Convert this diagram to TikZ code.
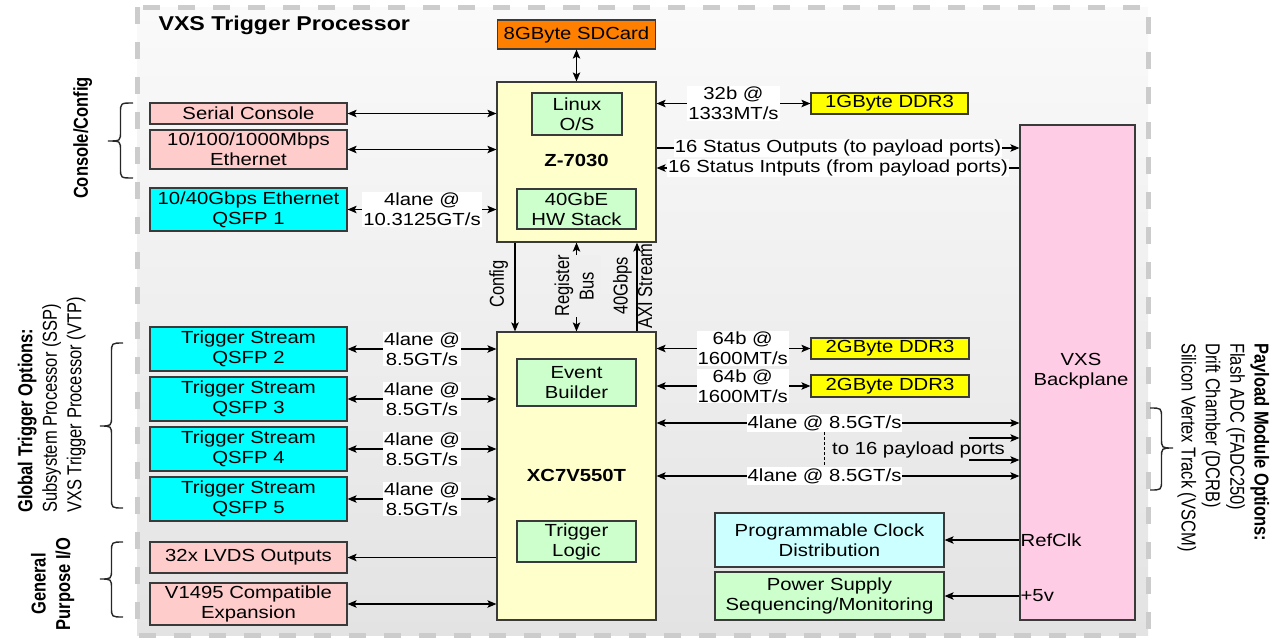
\documentclass[tikz,border=0pt]{standalone}
\usepackage{fontspec}
\setmainfont[FakeStretch=1.16]{Liberation Sans}
\newfontfamily\rotfont{Liberation Sans}
\usetikzlibrary{arrows.meta}
\definecolor{bordc}{HTML}{3A3A3A}
\definecolor{orangec}{HTML}{FF8000}
\definecolor{yellowc}{HTML}{FFFF00}
\definecolor{ltyellow}{HTML}{FFFFCC}
\definecolor{ltgreen}{HTML}{CCFFCC}
\definecolor{ltcyan}{HTML}{CCFFFF}
\definecolor{cyanc}{HTML}{00FFFF}
\definecolor{salmonc}{HTML}{FFCCCC}
\definecolor{pinkc}{HTML}{FFCCE6}
\definecolor{bgtop}{HTML}{FAFAFA}
\definecolor{bgbot}{HTML}{E3E3E3}
\definecolor{bgmid}{HTML}{EFEFEF}
\definecolor{dashc}{HTML}{CCCCCC}
\newcommand{\fsz}{\fontsize{17.5}{20}\selectfont}
\newcommand{\rfsz}{\fontsize{16.5}{20}\selectfont}
\newcommand{\rotlab}[2][l]{\scalebox{1}[1.22]{\rotfont\rfsz\begin{tabular}{@{}#1@{}}#2\end{tabular}}}
\begin{document}
\begin{tikzpicture}[x=1pt,y=-1pt,
  every node/.style={font=\fsz, text=black},
  box/.style={draw=bordc, line width=1.2pt, inner sep=0pt, align=center},
  lab/.style={fill=white, inner sep=1pt, align=center},
  arr/.style={-{Stealth[length=9pt,width=7.5pt,inset=2pt]}, line width=1.1pt},
  barr/.style={{Stealth[length=9pt,width=7.5pt,inset=2pt]}-{Stealth[length=9pt,width=7.5pt,inset=2pt]}, line width=1.1pt},
  brc/.style={line width=1.4pt, draw=black!85},
  rot/.style={inner sep=0pt}]
\useasboundingbox (0,0) rectangle (1281,638);
% background frame
\fill[top color=bgtop, bottom color=bgbot] (137,7) rectangle (1148,635);
\draw[draw=dashc, line width=5pt, dash pattern=on 17pt off 18pt] (137,7) rectangle (1148,635);
\node[anchor=west, font=\fontsize{20}{22}\selectfont\bfseries] (title) at (155,25) {VXS Trigger Processor};

% Zynq
\node[box, fill=orangec, minimum width=158pt, minimum height=29pt] (sd) at (576.5,34.5) {8GByte SDCard};
\node[box, fill=ltyellow, minimum width=159pt, minimum height=160pt] (z) at (576.5,162) {};
\node[font=\fsz\bfseries] (zlab) at (576.5,160) {Z-7030};
\node[box, fill=ltgreen, minimum width=90pt, minimum height=42pt] (linux) at (577,114) {Linux\\O/S};
\node[box, fill=ltgreen, minimum width=119pt, minimum height=40pt] (hw) at (576.5,209) {40GbE\\HW Stack};
\node[box, fill=yellowc, minimum width=157pt, minimum height=21pt] (ddr1) at (889.5,103.5) {1GByte DDR3};

% Backplane
\node[box, fill=pinkc, minimum width=115pt, minimum height=495pt] (bp) at (1077.5,372.5) {};
\node[align=center] (bplab) at (1081,371) {VXS\\Backplane};

% left boxes
\node[box, fill=salmonc, minimum width=197pt, minimum height=21pt] (serial) at (248.5,113.5) {Serial Console};
\node[box, fill=salmonc, minimum width=197pt, minimum height=39pt] (eth) at (248.5,149.5) {10/100/1000Mbps\\Ethernet};
\node[box, fill=cyanc, minimum width=197pt, minimum height=43pt] (qsfp1) at (248.5,209.5) {10/40Gbps Ethernet\\QSFP 1};
\node[box, fill=cyanc, minimum width=197pt, minimum height=44pt] (q2) at (248.5,349) {Trigger Stream\\QSFP 2};
\node[box, fill=cyanc, minimum width=197pt, minimum height=44pt] (q3) at (248.5,399) {Trigger Stream\\QSFP 3};
\node[box, fill=cyanc, minimum width=197pt, minimum height=44pt] (q4) at (248.5,449) {Trigger Stream\\QSFP 4};
\node[box, fill=cyanc, minimum width=197pt, minimum height=44pt] (q5) at (248.5,499) {Trigger Stream\\QSFP 5};
\node[box, fill=salmonc, minimum width=197pt, minimum height=31pt] (lvds) at (248.5,557.5) {32x LVDS Outputs};
\node[box, fill=salmonc, minimum width=197pt, minimum height=42pt] (v1495) at (248.5,604) {V1495 Compatible\\Expansion};

% Virtex
\node[box, fill=ltyellow, minimum width=159pt, minimum height=288pt] (xc) at (576.5,476) {};
\node[font=\fsz\bfseries] (xclab) at (576.5,475) {XC7V550T};
\node[box, fill=ltgreen, minimum width=119pt, minimum height=47pt] (eb) at (576.5,382.5) {Event\\Builder};
\node[box, fill=ltgreen, minimum width=119pt, minimum height=41pt] (tl) at (576.5,541.5) {Trigger\\Logic};
\node[box, fill=yellowc, minimum width=158pt, minimum height=21pt] (ddr2a) at (890,348.5) {2GByte DDR3};
\node[box, fill=yellowc, minimum width=158pt, minimum height=22pt] (ddr2b) at (890,386) {2GByte DDR3};
\node[box, fill=ltcyan, minimum width=229pt, minimum height=54pt] (clk) at (829.5,540) {Programmable Clock\\Distribution};
\node[box, fill=ltgreen, minimum width=229pt, minimum height=48pt] (pwr) at (829.5,596) {Power Supply\\Sequencing/Monitoring};

% Zynq connections
\draw[barr] (sd.south) -- (z.north);
\draw[barr] (serial.east) -- (serial.east -| z.west);
\draw[barr] (eth.east) -- (eth.east -| z.west);
\draw[barr] (qsfp1.east) -- node[lab] (l103) {4lane @\\10.3125GT/s} (qsfp1.east -| z.west);
\draw[barr] (ddr1.west -| z.east) -- node[lab] (l32) {32b @\\1333MT/s} (ddr1.west);
\draw[arr] ([yshift=14pt]z.east) -- node[lab] (so) {16 Status Outputs (to payload ports)} ([yshift=14pt]z.east -| bp.west);
\draw[arr] ([yshift=-6pt]z.east -| bp.west) -- node[lab] (si) {16 Status Intputs (from payload ports)} ([yshift=-6pt]z.east);

% Zynq <-> Virtex
\node[rot, rotate=90] (cfgl) at (499,284) {\rotlab{Config}};
\node[rot, rotate=90] (axil) at (635,286) {\rotlab[c]{40Gbps\\AXI Stream}};
\draw[arr] ([xshift=-61.5pt]z.south) -- ([xshift=-61.5pt]xc.north);
\draw[barr] (z.south) -- (xc.north);
\draw[arr] ([xshift=60.5pt]xc.north) -- ([xshift=60.5pt]z.south);
\node[rot, rotate=90, fill=bgmid] (regl) at (576.5,286) {\rotlab[c]{Register\\Bus}};

% left side of Virtex
\foreach \i in {2,3,4,5}{
  \draw[barr] (q\i.east) -- node[lab] (lq\i) {4lane @\\8.5GT/s} (q\i.east -| xc.west);
}
\draw[arr] (lvds.east -| xc.west) -- (lvds.east);
\draw[barr] (v1495.east) -- (v1495.east -| xc.west);

% right side of Virtex
\draw[barr] (ddr2a.west -| xc.east) -- node[lab, pos=0.56] (l64a) {64b @\\1600MT/s} (ddr2a.west);
\draw[barr] (ddr2b.west -| xc.east) -- node[lab, pos=0.56] (l64b) {64b @\\1600MT/s} (ddr2b.west);
\draw[barr] ([yshift=53pt]xc.east) -- node[lab, pos=0.463] (lr1) {4lane @ 8.5GT/s} ([yshift=53pt]xc.east -| bp.west);
\draw[barr] (xc.east) -- node[lab, pos=0.463] (lr2) {4lane @ 8.5GT/s} (xc.east -| bp.west);
\draw[densely dashed, line width=0.8pt] (lr1.south) -- (lr2.north);
\node[anchor=west, inner sep=0pt] (to16) at (832,450) {to 16 payload ports};
\coordinate (pp1) at (969,438);
\coordinate (pp2) at (969,460);
\draw[arr] (pp1) -- (pp1 -| bp.west);
\draw[arr] (pp2) -- (pp2 -| bp.west);

% clock and power
\draw[arr] (clk.east -| bp.west) -- (clk.east);
\node[anchor=west, inner sep=1pt] (refclk) at (clk.east -| bp.west) {RefClk};
\draw[arr] (pwr.east -| bp.west) -- (pwr.east);
\node[anchor=west, inner sep=1pt] (p5v) at (pwr.east -| bp.west) {+5v};

% braces
\draw[brc] (133,103) .. controls (120.5,103) .. (120.5,113) -- (120.5,131) .. controls (120.5,141) .. (108,141)
  .. controls (120.5,141) .. (120.5,151) -- (120.5,168) .. controls (120.5,178) .. (133,178);
\draw[brc] (123,343) .. controls (111.5,343) .. (111.5,353) -- (111.5,416) .. controls (111.5,426) .. (100,426)
  .. controls (111.5,426) .. (111.5,436) -- (111.5,498) .. controls (111.5,508) .. (123,508);
\draw[brc] (123,542) .. controls (111.5,542) .. (111.5,552) -- (111.5,569) .. controls (111.5,579) .. (100,579)
  .. controls (111.5,579) .. (111.5,589) -- (111.5,607) .. controls (111.5,617) .. (123,617);
\draw[brc] (1150,408) .. controls (1161.5,408) .. (1161.5,418) -- (1161.5,438) .. controls (1161.5,448) .. (1173,448)
  .. controls (1161.5,448) .. (1161.5,458) -- (1161.5,480) .. controls (1161.5,490) .. (1150,490);

% side labels
\node[rot, rotate=90] (cc) at (83,138) {\rotlab{\textbf{Console/Config}}};
\node[rot, rotate=90, anchor=west] (gto) at (52,513) {\rotlab{\textbf{Global Trigger Options:}\\Subsystem Processor (SSP)\\VXS Trigger Processor (VTP)}};
\node[rot, rotate=90] (gpio) at (53,584) {\rotlab[c]{\textbf{General}\\\textbf{Purpose I/O}}};
\node[rot, rotate=-90, anchor=west] (pmo) at (1223,343) {\rotlab{\textbf{Payload Module Options:}\\Flash ADC (FADC250)\\Drift Chamber (DCRB)\\Silicon Vertex Track (VSCM)}};
\end{tikzpicture}
\end{document}
